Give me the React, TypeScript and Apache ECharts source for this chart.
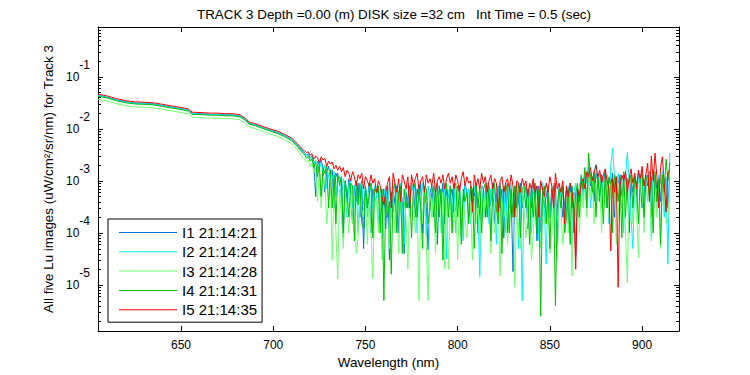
import React, { useEffect, useRef } from "react";
import * as echarts from "echarts";

// Wavelengths (nm): coarse in the smooth part, 1 nm in the noisy part
const WAVELENGTHS = [
  605, 610, 615, 620, 625, 630, 635, 640, 645, 650, 654, 656, 658, 662, 666, 670, 674, 678, 682, 685,
  687, 690, 694, 698, 702, 706, 710, 713,
  716, 717, 718, 719, 720, 721, 722, 723, 724, 725, 726, 727, 728, 729, 730, 731, 732, 733, 734, 735,
  736, 737, 738, 739, 740, 741, 742, 743, 744, 745, 746, 747, 748, 749, 750, 751, 752, 753, 754, 755,
  756, 757, 758, 759, 760, 761, 762, 763, 764, 765, 766, 767, 768, 769, 770, 771, 772, 773, 774, 775,
  776, 777, 778, 779, 780, 781, 782, 783, 784, 785, 786, 787, 788, 789, 790, 791, 792, 793, 794, 795,
  796, 797, 798, 799, 800, 801, 802, 803, 804, 805, 806, 807, 808, 809, 810, 811, 812, 813, 814, 815,
  816, 817, 818, 819, 820, 821, 822, 823, 824, 825, 826, 827, 828, 829, 830, 831, 832, 833, 834, 835,
  836, 837, 838, 839, 840, 841, 842, 843, 844, 845, 846, 847, 848, 849, 850, 851, 852, 853, 854, 855,
  856, 857, 858, 859, 860, 861, 862, 863, 864, 865, 866, 867, 868, 869, 870, 871, 872, 873, 874, 875,
  876, 877, 878, 879, 880, 881, 882, 883, 884, 885, 886, 887, 888, 889, 890, 891, 892, 893, 894, 895,
  896, 897, 898, 899, 900, 901, 902, 903, 904, 905, 906, 907, 908, 909, 910, 911, 912, 913, 914, 915,
];

// Lu values in units of 1e-3 uW/cm^2/sr/nm
const UNIT = 1e-3;

const I1 = [
  44, 40.5, 36, 33, 31.3, 30.8, 30, 28, 26, 24.4, 22.8, 19.9, 19.7, 19.4, 19, 19, 18.5, 18.5, 17.7, 15,
  12.8, 12, 10.6, 9.5, 8.6, 7.5, 6.2, 4.9,
  3.7, 3.5, 3.1, 3.3, 2.8, 3.0, 2.3, 0.5, 2.4, 2.0, 2.5, 1.7, 0.6, 1.5, 1.9, 1.2, 1.6, 0.3, 1.4, 1.1,
  1.2, 0.9, 0.08, 1.0, 0.4, 1.1, 0.5, 0.15, 0.8, 0.4, 0.9, 0.2, 1.0, 0.05, 0.8, 0.3, 0.9, 0.1, 0.7, 0.4,
  0.5, 0.8, 0.2, 0.3, 0.7, 0.12, 0.8, 0.03, 0.6, 0.25, 0.5, 0.8, 0.1, 0.7, 0.4, 0.04, 0.6, 0.3, 0.5, 0.7,
  0.8, 0.2, 0.7, 0.4, 0.9, 0.1, 0.7, 0.3, 0.047, 0.6, 0.8, 0.2, 0.7, 0.06, 0.8, 0.4, 0.9, 0.15, 0.7, 0.5,
  0.5, 0.7, 0.25, 0.3, 0.8, 0.6, 0.12, 0.4, 0.9, 0.6, 0.2, 0.8, 0.35, 0.5, 0.9, 0.1, 0.3, 0.8, 0.7, 0.2,
  0.8, 0.3, 0.4, 0.9, 0.15, 0.5, 0.8, 0.3, 0.7, 0.08, 0.9, 0.1, 0.7, 0.5, 0.018, 0.8, 0.25, 0.4, 0.9, 0.3,
  0.5, 0.8, 0.12, 0.7, 0.3, 0.9, 0.4, 0.07, 0.8, 0.1, 0.6, 0.3, 0.5, 0.8, 0.2, 0.7, 0.4, 0.9, 0.05, 0.7,
  0.6, 0.2, 0.4, 0.7, 0.15, 0.9, 0.3, 0.6, 0.035, 0.7, 0.4, 1.1, 0.6, 1.3, 0.3, 1.5, 0.8, 1.2, 0.4, 1.4,
  1.0, 0.4, 1.3, 0.9, 1.5, 0.3, 1.1, 0.8, 1.4, 0.2, 1.2, 0.9, 1.3, 0.5, 1.0, 1.4, 0.8, 0.1, 1.1, 0.6,
  1.2, 0.5, 1.4, 0.9, 0.3, 0.5, 1.3, 0.8, 1.5, 0.2, 1.0, 1.3, 0.7, 1.2, 0.4, 1.4, 0.6, 1.1, 0.3, 1.2,
];

const I2 = [
  43.5, 40, 35.6, 32.6, 31, 30.4, 29.7, 27.7, 25.8, 24.1, 22.5, 19.6, 19.4, 19.1, 18.8, 18.8, 18.3, 18.3, 17.5, 14.8,
  12.6, 11.8, 10.5, 9.4, 8.5, 7.4, 6.1, 4.8,
  3.6, 3.4, 3.0, 3.2, 2.7, 2.9, 2.1, 2.5, 2.2, 1.7, 2.3, 1.5, 2.0, 0.7, 1.3, 1.7, 1.1, 1.5, 0.5, 1.2,
  1.0, 0.4, 1.1, 0.8, 0.2, 0.9, 1.0, 0.3, 0.8, 0.9, 0.1, 0.7, 0.9, 0.35, 0.8, 0.2, 0.7, 0.9, 0.3, 0.8,
  0.6, 0.15, 0.7, 0.08, 0.5, 0.8, 0.3, 0.9, 0.2, 0.7, 0.8, 0.12, 0.6, 0.9, 0.3, 0.06, 0.7, 0.8, 0.2, 0.9,
  0.6, 0.8, 0.1, 0.7, 0.3, 0.9, 0.6, 0.09, 0.8, 0.4, 0.2, 0.8, 0.6, 0.9, 0.25, 0.7, 0.1, 0.8, 0.032, 0.6,
  0.8, 0.2, 0.9, 0.1, 0.7, 0.8, 0.3, 0.07, 0.9, 0.5, 0.7, 0.15, 0.4, 0.7, 0.9, 0.3, 0.0145, 0.8, 0.2, 0.7,
  0.9, 0.15, 0.7, 0.4, 0.8, 0.06, 0.7, 0.9, 0.2, 0.8, 0.1, 0.7, 0.3, 0.9, 0.2, 0.7, 0.8, 0.05, 0.6, 0.005,
  0.7, 0.8, 0.2, 0.9, 0.1, 0.7, 0.4, 0.8, 0.07, 0.7, 0.9, 0.3, 0.025, 0.8, 0.2, 0.4, 0.9, 0.12, 0.3, 0.8,
  0.5, 0.9, 0.15, 0.3, 0.8, 0.2, 0.05, 0.6, 0.9, 0.3, 0.8, 1.2, 0.4, 1.5, 0.9, 1.9, 0.3, 0.7, 1.6, 2.1,
  0.9, 1.4, 0.3, 1.2, 0.5, 1.3, 0.15, 2.0, 4.2, 1.2, 0.4, 1.4, 0.6, 1.1, 0.1, 1.3, 3.5, 0.9, 0.2, 0.05,
  1.1, 0.3, 1.3, 0.9, 1.5, 0.2, 1.2, 0.4, 1.4, 0.08, 1.6, 1.0, 0.3, 1.3, 0.9, 1.5, 0.2, 1.2, 0.025, 3.4,
];

const I3 = [
  37, 34, 30.4, 27.8, 26.4, 26, 25.3, 23.6, 22, 20.6, 19.2, 16.7, 16.5, 16.3, 16, 16, 15.6, 15.6, 14.9, 12.6,
  10.8, 10.1, 9, 8, 7.2, 6.2, 5.2, 4.0,
  2.8, 2.6, 2.3, 2.5, 1.9, 2.2, 1.4, 1.8, 0.4, 1.6, 0.3, 1.3, 0.9, 0.15, 0.4, 1.1, 0.03, 0.9, 0.1, 0.013,
  0.7, 0.2, 0.05, 0.6, 0.3, 0.1, 0.6, 0.15, 0.5, 0.04, 0.08, 0.5, 0.2, 0.3, 0.5, 0.06, 0.6, 0.1, 0.013, 0.5,
  0.4, 0.1, 0.5, 0.03, 0.15, 0.4, 0.2, 0.05, 0.4, 0.6, 0.1, 0.5, 0.04, 0.5, 0.1, 0.4, 0.2, 0.02, 0.5, 0.3,
  0.5, 0.1, 0.4, 0.005, 0.5, 0.15, 0.6, 0.06, 0.005, 0.5, 0.2, 0.6, 0.04, 0.4, 0.5, 0.1, 0.6, 0.02, 0.5, 0.02,
  0.4, 0.1, 0.15, 0.6, 0.03, 0.5, 0.06, 0.4, 0.2, 0.08, 0.5, 0.3, 0.03, 0.5, 0.15, 0.6, 0.05, 0.5, 0.2, 0.6,
  0.2, 0.5, 0.04, 0.4, 0.1, 0.3, 0.5, 0.015, 0.4, 0.2, 0.3, 0.06, 0.2, 0.4, 0.6, 0.009, 0.4, 0.1, 0.05, 0.5,
  0.3, 0.08, 0.2, 0.5, 0.03, 0.1, 0.5, 0.2, 0.6, 0.05, 0.4, 0.15, 0.2, 0.6, 0.04, 0.08, 0.5, 0.1, 0.03, 0.5,
  0.3, 0.06, 0.2, 0.5, 0.1, 0.6, 0.015, 0.5, 0.2, 0.6, 0.1, 0.8, 0.3, 1.0, 0.2, 1.3, 0.5, 1.1, 0.15, 0.9,
  0.4, 1.0, 0.1, 0.8, 0.3, 1.1, 0.2, 0.9, 0.5, 1.2, 0.06, 0.2, 0.9, 0.3, 1.0, 0.1, 0.011, 0.8, 1.1, 0.15,
  0.9, 0.3, 0.033, 0.8, 1.1, 0.1, 0.9, 0.4, 1.2, 0.07, 0.3, 1.0, 0.2, 0.9, 0.05, 0.8, 1.1, 0.15, 0.2, 0.7,
];

const I4 = [
  42, 39, 34.5, 31.6, 30, 29.5, 28.8, 26.8, 25, 23.4, 21.8, 19, 18.8, 18.6, 18.2, 18.2, 17.7, 17.7, 16.9, 14.4,
  12.3, 11.5, 10.2, 9.1, 8.2, 7.1, 5.9, 4.6,
  3.4, 3.2, 2.7, 3.0, 2.4, 2.7, 1.8, 2.3, 1.2, 2.1, 0.5, 1.8, 1.4, 2.0, 0.3, 1.6, 0.3, 1.3, 0.15, 1.4,
  0.8, 1.2, 0.1, 1.0, 0.6, 0.2, 0.9, 0.8, 0.07, 1.0, 0.35, 0.9, 0.15, 0.12, 0.8, 0.3, 0.5, 0.9, 0.08, 0.7,
  0.6, 0.8, 0.1, 0.7, 0.005, 0.5, 0.2, 0.4, 0.016, 0.7, 0.9, 0.1, 0.6, 0.8, 0.04, 0.7, 0.3, 0.5, 0.8, 0.08,
  0.7, 0.9, 0.2, 0.8, 0.3, 0.05, 0.8, 0.7, 0.15, 0.3, 0.6, 0.8, 0.1, 0.9, 0.2, 0.7, 0.03, 0.4, 0.9, 0.2,
  0.8, 0.1, 0.7, 0.9, 0.2, 0.8, 0.06, 0.7, 0.4, 0.6, 0.15, 0.8, 0.7, 0.05, 0.9, 0.3, 0.8, 0.1, 0.7, 0.9,
  0.2, 0.8, 0.07, 0.7, 0.9, 0.3, 0.15, 0.8, 0.04, 0.7, 0.6, 0.9, 0.1, 0.7, 0.2, 0.8, 0.3, 0.9, 0.08, 0.7,
  0.8, 0.3, 0.7, 0.06, 0.8, 0.2, 0.9, 0.1, 0.7, 0.0025, 0.6, 0.8, 0.15, 0.7, 0.05, 0.6, 0.8, 0.004, 0.3, 0.7,
  0.3, 0.8, 0.1, 0.2, 0.7, 0.06, 0.8, 0.1, 0.6, 0.9, 0.2, 1.3, 0.7, 1.8, 0.3, 3.4, 1.2, 0.6, 1.5, 0.2,
  1.3, 0.5, 1.1, 0.15, 1.4, 0.3, 1.2, 0.9, 0.1, 1.3, 1.0, 0.4, 1.2, 0.08, 1.5, 0.2, 1.1, 0.9, 1.3, 0.3,
  1.2, 0.9, 0.15, 1.1, 1.4, 0.2, 1.0, 1.3, 0.5, 1.2, 0.1, 1.5, 0.4, 1.1, 0.06, 1.3, 0.6, 2.6, 1.0, 2.2,
];

const I5 = [
  46.5, 42.7, 38, 34.7, 33, 32.4, 31.6, 29.5, 27.5, 25.7, 24, 20.9, 20.7, 20.4, 20, 20, 19.5, 19.5, 18.6, 15.8,
  13.5, 12.6, 11.2, 10, 9.1, 7.9, 6.6, 5.2,
  4.0, 3.8, 3.5, 3.6, 3.1, 3.3, 2.6, 3.0, 2.8, 2.2, 2.9, 2.5, 2.7, 1.9, 2.4, 2.1, 2.3, 1.7, 2.0, 1.6,
  1.9, 1.5, 1.8, 1.2, 1.6, 1.4, 1.0, 1.5, 1.2, 0.8, 1.3, 1.1, 1.4, 0.7, 1.2, 1.0, 0.8, 1.3, 0.9, 1.1,
  0.6, 1.0, 0.8, 0.5, 0.35, 0.6, 0.9, 1.2, 0.3, 1.4, 0.9, 0.6, 1.1, 0.4, 1.3, 1.0, 0.7, 1.2, 0.3, 1.3,
  0.8, 1.1, 1.4, 0.7, 1.0, 1.2, 0.6, 1.3, 0.9, 1.1, 0.8, 1.4, 0.6, 1.0, 1.2, 0.9, 1.3, 0.7, 1.1, 1.4,
  0.9, 1.2, 0.7, 1.3, 1.0, 0.6, 1.1, 1.5, 0.8, 1.2, 0.9, 1.0, 0.25, 1.3, 0.8, 1.1, 0.7, 1.4, 0.9, 1.2,
  0.6, 1.0, 1.3, 0.7, 1.1, 0.9, 0.25, 1.0, 1.2, 0.6, 0.9, 1.1, 0.7, 1.3, 0.8, 0.2, 1.0, 0.9, 0.6, 1.1,
  0.8, 1.0, 0.5, 0.9, 0.7, 1.1, 0.6, 0.8, 0.2, 1.0, 0.7, 0.5, 0.9, 0.6, 1.2, 0.8, 0.3, 1.4, 0.7, 0.9,
  0.6, 1.0, 0.15, 0.8, 0.5, 0.9, 0.6, 0.3, 0.02, 0.7, 0.5, 0.9, 1.1, 0.7, 1.5, 1.2, 1.8, 1.0, 1.4, 2.0,
  1.2, 1.6, 0.9, 1.3, 1.7, 1.0, 0.7, 0.045, 1.1, 0.6, 1.2, 0.009, 0.8, 1.3, 1.0, 1.5, 0.6, 1.1, 1.7, 0.9,
  1.4, 0.7, 1.6, 1.1, 1.9, 0.8, 1.3, 2.2, 0.4, 3.0, 1.0, 3.4, 1.2, 0.3, 1.8, 2.9, 0.9, 0.25, 1.4, 1.6,
];

const SERIES_NAMES = ["I1 21:14:21", "I2 21:14:24", "I3 21:14:28", "I4 21:14:31", "I5 21:14:35"];
const SERIES_VALUES = [I1, I2, I3, I4, I5];
const SERIES_COLORS = ["#0070e0", "#00f0ff", "#70ff70", "#00c000", "#ff0000"];

const TITLE = "TRACK 3 Depth =0.00 (m) DISK size =32 cm   Int Time = 0.5 (sec)";
const X_NAME = "Wavelength (nm)";
const Y_NAME = "All five Lu images (uW/cm\u00b2/sr/nm) for Track 3";
const X_TICKS = [650, 700, 750, 800, 850, 900];
const X_MIN = 605;
const X_MAX = 920;
const Y_MIN = 1.3e-6;
const Y_MAX = 0.904;

const FONT = "'Liberation Sans', Arial, Helvetica, sans-serif";

export default function App() {
  const ref = useRef<HTMLDivElement>(null);

  useEffect(() => {
    if (!ref.current) return;
    const chart = echarts.init(ref.current, null, { renderer: "svg" });

    const series = SERIES_NAMES.map((name, i) => ({
      name,
      type: "line",
      xAxisIndex: 0,
      yAxisIndex: 0,
      data: WAVELENGTHS.map((w, j) => [w, SERIES_VALUES[i][j] * UNIT]),
      showSymbol: false,
      symbol: "none",
      lineStyle: { width: 1, color: SERIES_COLORS[i] },
      itemStyle: { color: SERIES_COLORS[i] },
      emphasis: { disabled: true },
    }));

    const decadeLabel = (v: number) => {
      const e = Math.log10(v);
      const r = Math.round(e);
      if (Math.abs(e - r) > 1e-6) return "";
      return `{b|10}{s|${r}}`;
    };

    const xLabel = (v: number) =>
      X_TICKS.indexOf(Math.round(v)) >= 0 && Math.abs(v - Math.round(v)) < 1e-6 ? String(Math.round(v)) : "";

    const option: any = {
      animation: false,
      backgroundColor: "#ffffff",
      textStyle: { fontFamily: FONT, color: "#000" },
      title: {
        text: TITLE,
        left: 389,
        top: 3,
        textAlign: "center",
        textStyle: { fontFamily: FONT, fontSize: 13.4, fontWeight: "normal", color: "#000" },
      },
      legend: {
        orient: "vertical",
        left: 108,
        top: 219,
        padding: [6, 5, 5, 11],
        itemGap: 4.3,
        itemWidth: 58,
        itemHeight: 1,
        icon: "rect",
        borderColor: "#000",
        borderWidth: 1,
        borderRadius: 0,
        backgroundColor: "#fff",
        textStyle: { fontFamily: FONT, fontSize: 15, color: "#000", lineHeight: 15 },
        data: SERIES_NAMES,
      },
      grid: { left: 98, right: 71, top: 27, bottom: 44, containLabel: false },
      xAxis: [
        {
          type: "value",
          min: X_MIN,
          max: X_MAX,
          position: "bottom",
          name: X_NAME,
          nameLocation: "middle",
          nameGap: 24,
          nameTextStyle: { fontFamily: FONT, fontSize: 13.4, color: "#000", verticalAlign: "top" },
          axisLine: { show: true, lineStyle: { color: "#000", width: 1 } },
          axisTick: { show: true, inside: true, length: 5, lineStyle: { color: "#000" } },
          axisLabel: {
            show: true,
            margin: 8,
            color: "#000",
            fontFamily: FONT,
            fontSize: 12,
            formatter: xLabel,
            showMinLabel: false,
            showMaxLabel: false,
          },
          splitLine: { show: false },
        },
        {
          type: "value",
          min: X_MIN,
          max: X_MAX,
          position: "top",
          axisLine: { show: true, lineStyle: { color: "#000", width: 1 } },
          axisTick: { show: true, inside: true, length: 5, lineStyle: { color: "#000" } },
          axisLabel: { show: false },
          splitLine: { show: false },
        },
      ],
      yAxis: [
        {
          type: "log",
          logBase: 10,
          min: Y_MIN,
          max: Y_MAX,
          position: "left",
          name: Y_NAME,
          nameLocation: "middle",
          nameRotate: 90,
          nameGap: 40,
          nameTextStyle: { fontFamily: FONT, fontSize: 13.4, color: "#000" },
          axisLine: { show: true, lineStyle: { color: "#000", width: 1 } },
          axisTick: { show: true, inside: true, length: 5, lineStyle: { color: "#000" } },
          axisLabel: {
            show: true,
            margin: 8,
            showMinLabel: false,
            showMaxLabel: false,
            formatter: decadeLabel,
            rich: {
              b: { fontFamily: FONT, fontSize: 12, color: "#000", lineHeight: 14 },
              s: { fontFamily: FONT, fontSize: 12, color: "#000", lineHeight: 14, padding: [0, 0, 24, 0] },
            },
          },
          splitLine: { show: false },
        },
        {
          type: "log",
          logBase: 10,
          min: Y_MIN,
          max: Y_MAX,
          position: "right",
          axisLine: { show: true, lineStyle: { color: "#000", width: 1 } },
          axisTick: { show: true, inside: true, length: 5, lineStyle: { color: "#000" } },
          axisLabel: { show: false },
          splitLine: { show: false },
        },
      ],
      series,
    };

    chart.setOption(option);

    // Minor log ticks (2..9 x 10^n) placed through the axis scale
    const minorValues: number[] = [];
    for (let d = -7; d <= 0; d++) {
      for (let m = 2; m <= 9; m++) {
        const v = m * Math.pow(10, d);
        if (v > Y_MIN && v < Y_MAX) minorValues.push(v);
      }
    }
    const xl = chart.convertToPixel({ xAxisIndex: 0 }, X_MIN) as number;
    const xr = chart.convertToPixel({ xAxisIndex: 0 }, X_MAX) as number;
    const graphics: any[] = [];
    minorValues.forEach((v) => {
      const y = Math.round(chart.convertToPixel({ yAxisIndex: 0 }, v) as number) + 0.5;
      graphics.push({ type: "line", silent: true, shape: { x1: xl, y1: y, x2: xl + 3, y2: y }, style: { stroke: "#000", lineWidth: 1 } });
      graphics.push({ type: "line", silent: true, shape: { x1: xr - 3, y1: y, x2: xr, y2: y }, style: { stroke: "#000", lineWidth: 1 } });
    });
    chart.setOption({ graphic: graphics });

    return () => chart.dispose();
  }, []);

  return <div ref={ref} style={{ position: "fixed", left: 0, top: 0, width: 750, height: 375 }} />;
}
